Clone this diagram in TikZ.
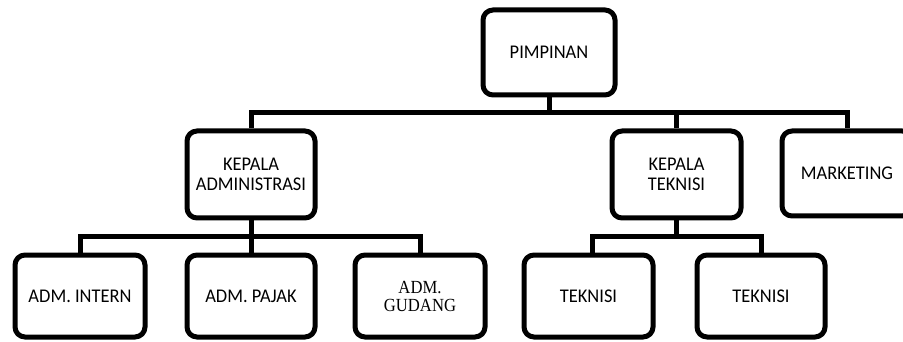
\documentclass[tikz,border=0pt]{standalone}
\usepackage{fontspec}
\setmainfont{Carlito}[FakeStretch=0.95]
\newfontfamily\serifface{Liberation Serif}[FakeStretch=0.9]
\begin{document}
\begin{tikzpicture}[x=1pt,y=-1pt,
  box/.style={draw=black, line width=5pt, rounded corners=10pt, fill=white,
    align=center, inner sep=0pt, font=\fontsize{19.4}{20.5}\selectfont},
  serifbox/.style={box, font=\serifface\fontsize{18.5}{18}\selectfont},
  link/.style={draw=black, line width=5pt}]
\clip (0,0) rectangle (903,342);
\useasboundingbox (0,0) rectangle (903,342);
\fill[white] (0,0) rectangle (903,342);
% nodes
\node[box, minimum width=132pt, minimum height=85pt] (pim) at (549,52.5) {PIMPINAN};
\node[box, minimum width=128pt, minimum height=87pt] (ka) at (251,174.5) {KEPALA\\ADMINISTRASI};
\node[box, minimum width=129pt, minimum height=87pt] (kt) at (676.5,174.5) {KEPALA\\TEKNISI};
\node[box, minimum width=130pt, minimum height=85pt] (mk) at (847,173.5) {MARKETING};
\node[box, minimum width=130pt, minimum height=82pt] (ai) at (80,296) {ADM. INTERN};
\node[box, minimum width=128pt, minimum height=82pt] (ap) at (251,296) {ADM. PAJAK};
\node[serifbox, minimum width=130pt, minimum height=82pt] (ag) at (420,296) {ADM.\\GUDANG};
\node[box, minimum width=129pt, minimum height=82pt] (t1) at (588.5,296) {TEKNISI};
\node[box, minimum width=128pt, minimum height=82pt] (t2) at (761,296) {TEKNISI};
% bus levels
\coordinate (bus1) at (0,113);
\coordinate (bus2) at (0,236.5);
% connectors
\draw[link] (pim.south) -- (pim.south |- bus1);
\draw[link] (ka.north) |- (mk.north |- bus1) -- (mk.north);
\draw[link] (kt.north) -- (kt.north |- bus1);
\draw[link] (ka.south) -- (ka.south |- bus2);
\draw[link] (ai.north) |- (ag.north |- bus2) -- (ag.north);
\draw[link] (ap.north) -- (ap.north |- bus2);
\draw[link] (kt.south) -- (kt.south |- bus2);
\draw[link] ([xshift=4pt]t1.north) |- (t2.north |- bus2) -- (t2.north);
\end{tikzpicture}
\end{document}
